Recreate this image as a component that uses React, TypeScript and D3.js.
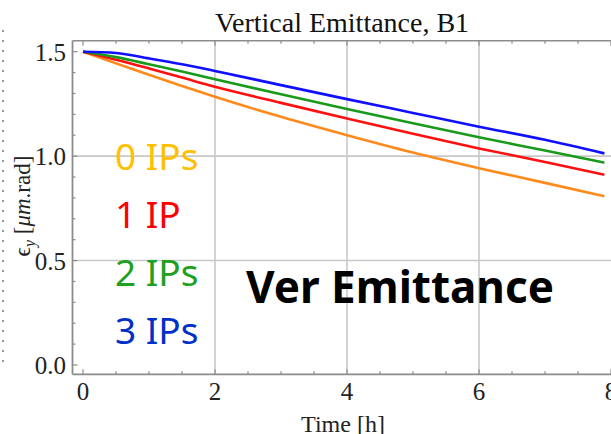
import React from "react";
import * as d3 from "d3";

// Time samples (hours) and vertical emittance (µm.rad) for each IP configuration
const timeH = [0, 0.5, 1, 1.5, 2, 3, 4, 5, 6, 7, 7.9];
const emit0IP = [1.5, 1.444, 1.39, 1.336, 1.284, 1.188, 1.1, 1.017, 0.942, 0.872, 0.808];
const emit1IP = [1.5, 1.462, 1.42, 1.376, 1.332, 1.255, 1.18, 1.107, 1.037, 0.972, 0.911];
const emit2IP = [1.5, 1.474, 1.44, 1.405, 1.368, 1.296, 1.226, 1.157, 1.09, 1.027, 0.969];
const emit3IP = [1.5, 1.494, 1.468, 1.44, 1.408, 1.34, 1.273, 1.207, 1.141, 1.078, 1.013];

const seriesLabels = ["0 IPs", "1 IP", "2 IPs", "3 IPs"];
const xTicks = [0, 2, 4, 6, 8];
const yTicks = [0, 0.5, 1.0, 1.5];

const lineColors = ["#ff8a1c", "#ff1010", "#1a9a1a", "#1010ff"];
const labelColors = ["#ffc000", "#ff0000", "#20a020", "#0030c8"];

export default function App() {
  const W = 611;
  const H = 434;
  const frameL = 72.5;
  const frameT = 40.7;
  const frameB = 374.3;
  const frameR = 625;

  const x = d3.scaleLinear().domain([0, 8]).range([83, 611]);
  const y = d3.scaleLinear().domain([0, 1.5]).range([365, 51.7]);

  const series = [emit0IP, emit1IP, emit2IP, emit3IP];
  const line = d3
    .line<number>()
    .x((_, i) => x(timeH[i]))
    .y((v) => y(v))
    .curve(d3.curveMonotoneX);

  const xMinor = d3.range(0, 8.01, 0.5);
  const yMinor = d3.range(0, 1.501, 0.1);
  const axisColor = "#8c8c8c";
  const serif = "'Liberation Serif', 'Times New Roman', serif";
  const sans = "'Noto Sans', 'Open Sans', sans-serif";

  return (
    <svg
      width={W}
      height={H}
      style={{ position: "absolute", left: 0, top: 0, background: "#fff" }}
    >
      {/* dotted page edge */}
      <line x1={3} x2={3} y1={30} y2={362} stroke="#777" strokeWidth={1.5} strokeDasharray="2,8" />

      {/* title */}
      <text x={342} y={31.5} textAnchor="middle" fontFamily={serif} fontSize={28} fill="#111">
        Vertical Emittance, B1
      </text>

      {/* grid lines */}
      {xTicks
        .filter((t) => t > 0 && t < 8)
        .map((t) => (
          <line key={"gx" + t} x1={x(t)} x2={x(t)} y1={frameT} y2={frameB} stroke="#c8c8c8" strokeWidth={1.6} />
        ))}
      {[0.5, 1.0].map((t) => (
        <line key={"gy" + t} x1={frameL} x2={frameR} y1={y(t)} y2={y(t)} stroke="#c8c8c8" strokeWidth={1.6} />
      ))}

      {/* frame */}
      <line x1={frameL} x2={frameR} y1={frameT} y2={frameT} stroke={axisColor} strokeWidth={1.6} />
      <line x1={frameL} x2={frameR} y1={frameB} y2={frameB} stroke={axisColor} strokeWidth={1.8} />
      <line x1={frameL} x2={frameL} y1={frameT} y2={frameB} stroke={axisColor} strokeWidth={1.8} />

      {/* ticks */}
      {xMinor.map((t) => {
        const major = Math.abs(t - Math.round(t / 2) * 2) < 1e-6;
        const len = major ? 5 : 3;
        return (
          <g key={"xt" + t}>
            <line x1={x(t)} x2={x(t)} y1={frameB} y2={frameB - len} stroke={axisColor} strokeWidth={1.2} />
            <line x1={x(t)} x2={x(t)} y1={frameT} y2={frameT + len} stroke={axisColor} strokeWidth={1.2} />
          </g>
        );
      })}
      {yMinor.map((t) => {
        const major = Math.abs(t * 2 - Math.round(t * 2)) < 1e-6;
        const len = major ? 5 : 3;
        return (
          <line key={"yt" + t} x1={frameL} x2={frameL + len} y1={y(t)} y2={y(t)} stroke={axisColor} strokeWidth={1.2} />
        );
      })}

      {/* tick labels */}
      {xTicks.map((t) => (
        <text key={"xl" + t} x={x(t)} y={400} textAnchor="middle" fontFamily={serif} fontSize={25} fill="#222">
          {t}
        </text>
      ))}
      {yTicks.map((t) => (
        <text key={"yl" + t} x={66} y={y(t) + 9} textAnchor="end" fontFamily={serif} fontSize={25} fill="#222">
          {t.toFixed(1)}
        </text>
      ))}

      {/* axis titles */}
      <text x={343} y={431.5} textAnchor="middle" fontFamily={serif} fontSize={24} fill="#222">
        Time [h]
      </text>
      <text
        transform="translate(30,206) rotate(-90)"
        textAnchor="middle"
        fontFamily={serif}
        fontSize={23}
        fill="#222"
      >
        <tspan>ϵ</tspan>
        <tspan fontSize={16} dy={5} fontStyle="italic">y</tspan>
        <tspan dy={-5}> [</tspan>
        <tspan fontStyle="italic">μm</tspan>
        <tspan>.rad]</tspan>
      </text>

      {/* curves */}
      {series.map((s, i) => (
        <path key={"s" + i} d={line(s) ?? ""} fill="none" stroke={lineColors[i]} strokeWidth={2.6} />
      ))}

      {/* legend */}
      {seriesLabels.map((lab, i) => (
        <text key={"lg" + i} x={115} y={169.5 + i * 58} fontFamily={sans} fontSize={37} fill={labelColors[i]}>
          {lab}
        </text>
      ))}

      {/* annotation */}
      <text x={246} y={303} fontFamily={sans} fontWeight="bold" fontSize={44} fill="#000">
        Ver Emittance
      </text>
    </svg>
  );
}
